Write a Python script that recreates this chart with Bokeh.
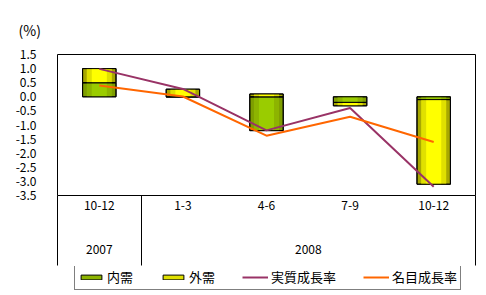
from bokeh.plotting import figure
from bokeh.layouts import column
from bokeh.models import (Range1d, FixedTicker, LinearAxis, Legend, LegendItem,
                          NumeralTickFormatter, ColumnDataSource)
from bokeh.embed import file_html
from bokeh.resources import INLINE

quarters = ["10-12", "1-3", "4-6", "7-9", "10-12"]
years = ["2007", "2008"]
year_quarters = [1, 4]
domestic = [0.5, 0.0, -1.2, -0.2, -0.1]
external = [0.5, 0.27, 0.1, -0.12, -3.0]
real_growth = [0.99, 0.28, -1.19, -0.40, -3.19]
nominal_growth = [0.40, 0.01, -1.38, -0.71, -1.60]
y_ticks = [-3.5, -3.0, -2.5, -2.0, -1.5, -1.0, -0.5, 0.0, 0.5, 1.0, 1.5]

FONT = "Noto Sans CJK JP"
n = len(quarters)
xs = [i + 0.5 for i in range(n)]

# stacking (positive and negative stacked separately)
d_bot = [0.0] * n
d_top = list(domestic)
e_bot, e_top = [], []
for d, e in zip(domestic, external):
    base = max(d, 0.0) if e >= 0 else min(d, 0.0)
    e_bot.append(base)
    e_top.append(base + e)

src_d = ColumnDataSource(dict(x=xs, top=d_top, bottom=d_bot))
src_e = ColumnDataSource(dict(x=xs, top=e_top, bottom=e_bot))
src_l = ColumnDataSource(dict(x=xs, real=real_growth, nominal=nominal_growth))

p = figure(width=486, height=266, output_backend="svg", toolbar_location=None,
           x_range=Range1d(0, n), y_range=Range1d(-3.5, 1.5),
           min_border_left=57, min_border_right=11, min_border_top=54,
           min_border_bottom=71, x_axis_type=None, y_axis_type=None)
p.outline_line_color = "black"
p.outline_line_width = 1
p.background_fill_color = "white"
p.border_fill_color = "white"

# y axis
yaxis = LinearAxis(ticker=FixedTicker(ticks=y_ticks),
                   formatter=NumeralTickFormatter(format="0.0"))
yaxis.axis_line_color = None
yaxis.major_tick_line_color = None
yaxis.minor_tick_line_color = None
yaxis.major_tick_out = 0
yaxis.major_tick_in = 0
yaxis.major_label_standoff = 21
yaxis.major_label_text_font = FONT
yaxis.major_label_text_font_size = "12px"
yaxis.major_label_text_color = "black"
p.add_layout(yaxis, "left")
p.ygrid.ticker = FixedTicker(ticks=y_ticks)
p.ygrid.grid_line_color = "black"
p.ygrid.grid_line_width = 1
p.xgrid.grid_line_color = None

# quarter axis
qaxis = LinearAxis(ticker=FixedTicker(ticks=xs, minor_ticks=[]),
                   major_label_overrides={x: q for x, q in zip(xs, quarters)})
qaxis.axis_line_color = None
qaxis.major_tick_line_color = None
qaxis.minor_tick_line_color = None
qaxis.major_tick_out = 0
qaxis.major_tick_in = 0
qaxis.major_label_standoff = 5
qaxis.major_label_text_font = FONT
qaxis.major_label_text_font_size = "12px"
qaxis.major_label_text_color = "black"
p.add_layout(qaxis, "below")

# year axis, whose minor ticks draw the group dividers
ypos = []
bounds = [0]
start = 0
for k in year_quarters:
    ypos.append(start + k / 2)
    start += k
    bounds.append(start)
yraxis = LinearAxis(ticker=FixedTicker(ticks=ypos, minor_ticks=bounds),
                    major_label_overrides={x: y for x, y in zip(ypos, years)})
yraxis.axis_line_color = None
yraxis.major_tick_line_color = None
yraxis.major_tick_out = 0
yraxis.major_tick_in = 0
yraxis.minor_tick_line_color = "black"
yraxis.minor_tick_in = 17
yraxis.minor_tick_out = 53
yraxis.major_label_standoff = -21
yraxis.major_label_text_font = FONT
yraxis.major_label_text_font_size = "12px"
yraxis.major_label_text_color = "black"
p.add_layout(yraxis, "below")

# bars with cylinder-like shading
W = 0.40
green_strips = [("#7E9E00", 0.40), ("#8DB400", 0.30), ("#9ACC00", 0.18)]
yellow_strips = [("#A8A800", 0.40), ("#E0E000", 0.30), ("#FFFF00", 0.18)]

p.vbar(x="x", top="top", bottom="bottom", width=W, source=src_d,
       fill_color=green_strips[0][0], line_color="black", line_width=1)
for c, w in green_strips[1:]:
    p.vbar(x="x", top="top", bottom="bottom", width=w, source=src_d,
           fill_color=c, line_color=None)
p.vbar(x="x", top="top", bottom="bottom", width=W, source=src_d,
       fill_alpha=0, line_color="black", line_width=1)

p.vbar(x="x", top="top", bottom="bottom", width=W, source=src_e,
       fill_color=yellow_strips[0][0], line_color="black", line_width=1)
for c, w in yellow_strips[1:]:
    p.vbar(x="x", top="top", bottom="bottom", width=w, source=src_e,
           fill_color=c, line_color=None)
p.vbar(x="x", top="top", bottom="bottom", width=W, source=src_e,
       fill_alpha=0, line_color="black", line_width=1)

REAL_C = "#993366"
NOM_C = "#FF6600"
p.line(x="x", y="real", source=src_l, line_color=REAL_C, line_width=2)
p.line(x="x", y="nominal", source=src_l, line_color=NOM_C, line_width=2)

p.title.text = "(%)"
p.title.align = "left"
p.title.offset = -39
p.title.standoff = 29
p.title.text_font = FONT
p.title.text_font_size = "14px"
p.title.text_font_style = "normal"
p.title.text_color = "black"

# legend strip (separate small figure below the chart)
q = figure(width=486, height=29, output_backend="svg", toolbar_location=None,
           x_range=Range1d(0, 1), y_range=Range1d(0, 1),
           min_border_left=57, min_border_right=11, min_border_top=0,
           min_border_bottom=0, x_axis_type=None, y_axis_type=None)
q.outline_line_color = None
q.xgrid.grid_line_color = None
q.ygrid.grid_line_color = None
q.border_fill_color = "white"
# legend-key renderers kept outside the visible range of the strip
lg_d = q.vbar(x=[-5], top=[-5], bottom=[-6], width=0.1,
              fill_color=green_strips[1][0], line_color="black")
lg_e = q.vbar(x=[-5], top=[-5], bottom=[-6], width=0.1,
              fill_color=yellow_strips[1][0], line_color="black")
lg_r = q.line(x=[-6, -5], y=[-5, -5], line_color=REAL_C, line_width=2)
lg_n = q.line(x=[-6, -5], y=[-5, -5], line_color=NOM_C, line_width=2)

legend = Legend(items=[LegendItem(label="内需", renderers=[lg_d]),
                       LegendItem(label="外需", renderers=[lg_e]),
                       LegendItem(label="実質成長率", renderers=[lg_r]),
                       LegendItem(label="名目成長率", renderers=[lg_n])],
                orientation="horizontal", location=(17, 5),
                glyph_width=26, glyph_height=6, label_height=12,
                label_standoff=3, spacing=27, padding=3, margin=0,
                border_line_color="black", border_line_width=1,
                label_text_font=FONT, label_text_font_size="13px",
                label_text_color="black",
                background_fill_color="white", background_fill_alpha=1)
q.add_layout(legend, "center")

layout = column(p, q, spacing=0)
open("out.html", "w").write(file_html(layout, INLINE))
